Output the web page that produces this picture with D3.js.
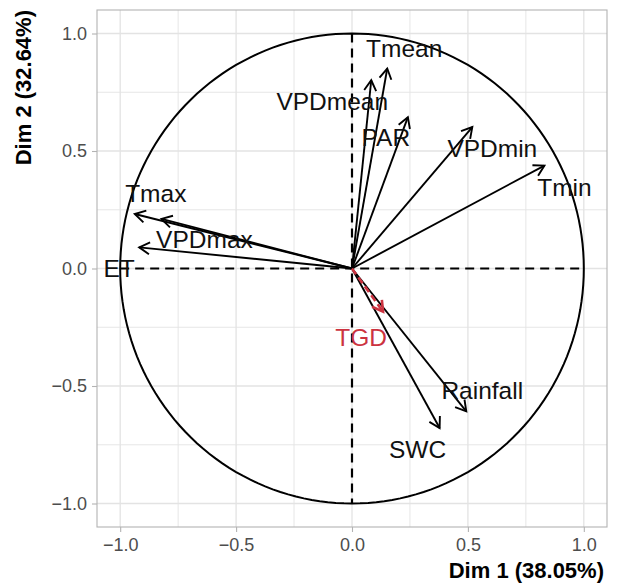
<!DOCTYPE html>
<html>
<head>
<meta charset="utf-8">
<script src="https://cdn.jsdelivr.net/npm/d3@7"></script>
<style>
  body { margin: 0; background: #fff; }
  text { font-family: "Liberation Sans", Arial, sans-serif; }
</style>
</head>
<body>
<svg id="chart" width="624" height="585"></svg>
<script>
// active variables, coordinates on Dim 1 / Dim 2
const variables = ["Tmean", "VPDmean", "PAR", "VPDmin", "Tmin", "Tmax", "VPDmax", "ET", "Rainfall", "SWC"];
const dim1 = [0.152, 0.083, 0.241, 0.519, 0.830, -0.937, -0.822, -0.918, 0.493, 0.378];
const dim2 = [0.851, 0.801, 0.644, 0.602, 0.438, 0.232, 0.211, 0.090, -0.608, -0.679];

// supplementary variable
const supVariables = ["TGD"];
const supDim1 = [0.134];
const supDim2 = [-0.184];

const tickValues = [-1, -0.5, 0, 0.5, 1];
const gridValues = [-1, -0.75, -0.5, -0.25, 0, 0.25, 0.5, 0.75, 1];
const xTitle = "Dim 1 (38.05%)";
const yTitle = "Dim 2 (32.64%)";

function drawCircle() {
  let svg = d3.select("#chart");
  let panel = { left: 97, right: 607, top: 10, bottom: 527 };

  let x = d3.scaleLinear().domain([-1.1, 1.1]).range([panel.left, panel.right]);
  let y = d3.scaleLinear().domain([-1.1, 1.1]).range([panel.bottom, panel.top]);

  // grid
  let grid = svg.append("g");
  grid.selectAll(".vgrid")
    .data(gridValues)
    .enter()
    .append("line")
    .attr("x1", d => x(d)).attr("x2", d => x(d))
    .attr("y1", panel.top).attr("y2", panel.bottom)
    .attr("stroke", "#e3e3e3")
    .attr("stroke-width", d => (d * 2) % 1 === 0 ? 1.3 : 0.9);
  grid.selectAll(".hgrid")
    .data(gridValues)
    .enter()
    .append("line")
    .attr("y1", d => y(d)).attr("y2", d => y(d))
    .attr("x1", panel.left).attr("x2", panel.right)
    .attr("stroke", "#e3e3e3")
    .attr("stroke-width", d => (d * 2) % 1 === 0 ? 1.3 : 0.9);

  // axes
  let xAxis = svg.append("g")
    .attr("transform", `translate(0,${panel.bottom})`)
    .call(d3.axisBottom(x).tickValues(tickValues).tickSize(5).tickPadding(6).tickFormat(d3.format(".1f")));
  let yAxis = svg.append("g")
    .attr("transform", `translate(${panel.left},0)`)
    .call(d3.axisLeft(y).tickValues(tickValues).tickSize(5).tickPadding(5).tickFormat(d3.format(".1f")));

  [xAxis, yAxis].forEach(a => {
    a.select(".domain").remove();
    a.selectAll(".tick line").attr("stroke", "#b3b3b3").attr("stroke-width", 1.1);
    a.selectAll(".tick text")
      .attr("fill", "#4d4d4d")
      .attr("font-size", 18)
      .style("font-family", "'Liberation Sans', Arial, sans-serif")
      .text(d => d3.format(".1f")(d).replace("-", "\u2212"));
  });

  // panel border
  svg.append("rect")
    .attr("x", panel.left).attr("y", panel.top)
    .attr("width", panel.right - panel.left)
    .attr("height", panel.bottom - panel.top)
    .attr("fill", "none")
    .attr("stroke", "#b3b3b3")
    .attr("stroke-width", 1.1);

  // correlation circle
  let angles = d3.range(0, 361, 2).map(a => a * Math.PI / 180);
  svg.append("path")
    .datum(angles)
    .attr("d", d3.line().x(a => x(Math.cos(a))).y(a => y(Math.sin(a))))
    .attr("fill", "none")
    .attr("stroke", "#000")
    .attr("stroke-width", 2);

  // origin lines
  svg.append("line")
    .attr("x1", x(-1)).attr("x2", x(1)).attr("y1", y(0)).attr("y2", y(0))
    .attr("stroke", "#000").attr("stroke-width", 2.2).attr("stroke-dasharray", "9,6");
  svg.append("line")
    .attr("x1", x(0)).attr("x2", x(0)).attr("y1", y(1)).attr("y2", y(-1))
    .attr("stroke", "#000").attr("stroke-width", 2.2).attr("stroke-dasharray", "9,6");

  let active = variables.map((v, i) => ({ name: v, d1: dim1[i], d2: dim2[i], sup: false }));
  let sup = supVariables.map((v, i) => ({ name: v, d1: supDim1[i], d2: supDim2[i], sup: true }));
  let all = active.concat(sup);

  function shaft(d) {
    return `M${x(0)},${y(0)}L${x(d.d1)},${y(d.d2)}`;
  }

  function head(d) {
    let x0 = x(0), y0 = y(0), x1 = x(d.d1), y1 = y(d.d2);
    let ang = Math.atan2(y1 - y0, x1 - x0);
    let len = 12, spread = Math.PI / 6;
    let ax = x1 - len * Math.cos(ang - spread), ay = y1 - len * Math.sin(ang - spread);
    let bx = x1 - len * Math.cos(ang + spread), by = y1 - len * Math.sin(ang + spread);
    return `M${ax},${ay}L${x1},${y1}L${bx},${by}`;
  }

  let red = "#cc3340";

  let arrows = svg.selectAll(".arrow")
    .data(all)
    .enter()
    .append("g")
    .classed("arrow", true)
    .attr("fill", "none")
    .attr("stroke", d => d.sup ? red : "#000")
    .attr("stroke-width", d => d.sup ? 2.6 : 1.9);

  arrows.append("path")
    .attr("d", shaft)
    .attr("stroke-dasharray", d => d.sup ? "7,4" : null);
  arrows.append("path")
    .attr("d", head);

  // label offsets (px) from arrow tips
  let offsets = {
    Tmean: [17, -20], VPDmean: [-39, 21], PAR: [-22, 20], VPDmin: [20, 21],
    Tmin: [20, 22], Tmax: [21, -20], VPDmax: [43, 21], ET: [-20, 21],
    Rainfall: [16, -21], SWC: [-22, 21], TGD: [-22, 26]
  };

  svg.selectAll(".label")
    .data(all)
    .enter()
    .append("text")
    .classed("label", true)
    .attr("x", d => x(d.d1) + offsets[d.name][0])
    .attr("y", d => y(d.d2) + offsets[d.name][1])
    .attr("text-anchor", "middle")
    .attr("dominant-baseline", "central")
    .attr("font-size", 24.5)
    .attr("fill", d => d.sup ? red : "#111")
    .text(d => d.name);

  // axis titles
  svg.append("text")
    .attr("x", panel.right - 3)
    .attr("y", 578)
    .attr("text-anchor", "end")
    .attr("font-size", 22)
    .attr("font-weight", "bold")
    .text(xTitle);
  svg.append("text")
    .attr("transform", `translate(31,${panel.top}) rotate(-90)`)
    .attr("text-anchor", "end")
    .attr("font-size", 22)
    .attr("font-weight", "bold")
    .text(yTitle);
}

drawCircle();
</script>
</body>
</html>
